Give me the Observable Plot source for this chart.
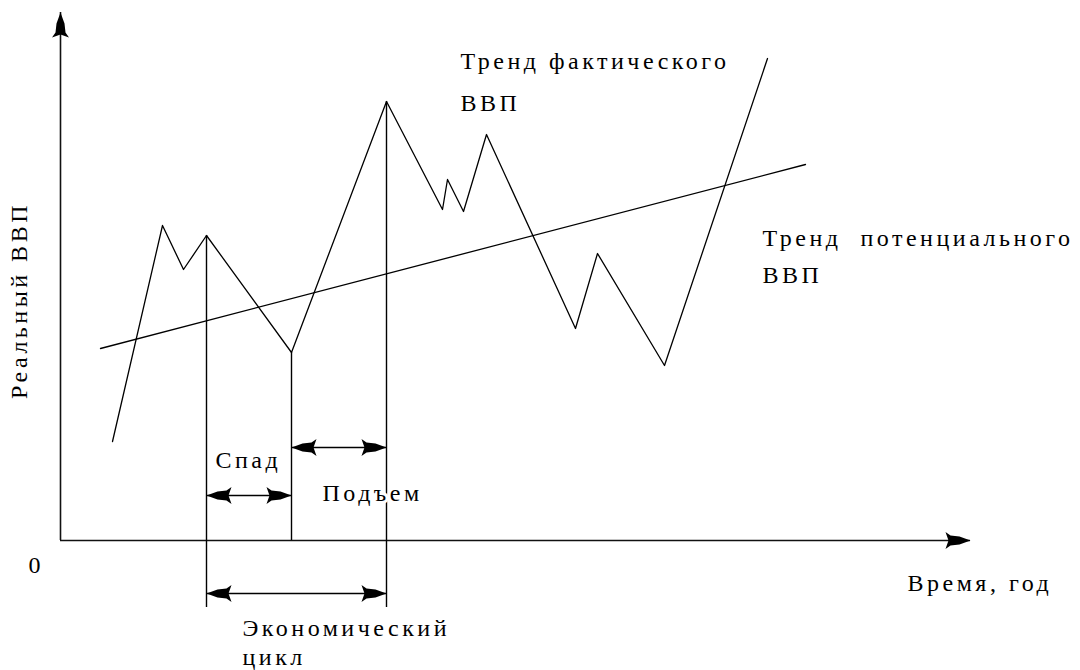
<!DOCTYPE html>
<html><head><meta charset="utf-8">
<script src="https://cdn.jsdelivr.net/npm/d3@7"></script>
<script src="https://cdn.jsdelivr.net/npm/@observablehq/plot@0.6"></script>
<style>html,body{margin:0;padding:0;background:#fff}
svg text{letter-spacing:3.5px; font-family:"Liberation Serif","DejaVu Serif","Times New Roman",Times,serif !important}</style>
</head><body><div id="chart"></div>
<script>
// Actual GDP path (time units, GDP units)
const actualT   = [5.2, 10.2, 12.3, 14.6, 23.1, 32.6, 38.2, 38.7, 40.3, 42.6, 51.5, 53.7, 60.4, 70.7];
const actualGdp = [9.9, 31.5, 27.1, 30.5, 18.8, 43.9, 33.1, 36.1, 32.9, 40.6, 21.2, 28.7, 17.5, 48.2];
// Potential GDP trend
const trendT   = [4.0, 74.5];
const trendGdp = [19.2, 37.6];
// Phase markers (vertical lines)
const markerT      = [14.6, 23.1, 32.6];
const markerTop    = [30.5, 18.8, 43.9];
const markerBottom = [-6.7, 0, -6.7];
// Span arrows
const spanNames = ["Подъем", "Спад", "Экономический цикл"];
const spanFrom  = [23.1, 14.6, 14.6];
const spanTo    = [32.6, 23.1, 32.6];
const spanGdp   = [9.3, 4.5, -5.3];
// Axes extents
const xAxisEnd = 91;
const yAxisEnd = 52.8;
// Labels
const labelText = ["Тренд фактического", "ВВП", "Тренд  потенциального", "ВВП", "Спад", "Подъем", "Экономический", "цикл", "Время, год", "0"];
const labelT    = [40.0, 40.0, 70.2, 70.2, 15.5, 26.2, 18.2, 18.2, 84.7, -3.2];
const labelGdp  = [47.2, 43.0, 29.5, 25.8, 7.3, 4.0, -9.5, -12.4, -5.0, -3.2];
const yTitle = "Реальный ВВП";

const actual = actualT.map((t, i) => ({t, g: actualGdp[i]}));
const trend = trendT.map((t, i) => ({t, g: trendGdp[i]}));
const markers = markerT.map((t, i) => ({t, g1: markerBottom[i], g2: markerTop[i]}));
const spans = spanNames.map((n, i) => ({n, t1: spanFrom[i], t2: spanTo[i], g: spanGdp[i]}));
const heads = [
  {t: 0, g: yAxisEnd, rot: -90},
  {t: xAxisEnd, g: 0, rot: 0},
  ...spans.flatMap(s => [{t: s.t1, g: s.g, rot: 180}, {t: s.t2, g: s.g, rot: 0}])
];
const labels = labelText.map((text, i) => ({text, t: labelT[i], g: labelGdp[i]}));

const arrowHead = {
  draw(ctx, size) {
    const k = Math.sqrt(size / (Math.PI * 4.5 * 4.5));
    const pts = [[0,0],[-11,-4],[-20,-5],[-25,-8.5],[-22,0],[-25,8.5],[-20,5],[-11,4]];
    ctx.moveTo(pts[0][0]*k, pts[0][1]*k);
    for (const [x, y] of pts.slice(1)) ctx.lineTo(x*k, y*k);
    ctx.closePath();
  }
};

const font = "Liberation Serif";
const chart = Plot.plot({
  width: 1080, height: 670, margin: 0,
  x: {domain: [-6, 102], axis: null},
  y: {domain: [-13, 54], axis: null},
  style: {background: "#fff", color: "#000", fontFamily: font},
  marks: [
    Plot.ruleX([0], {y1: 0, y2: yAxisEnd, stroke: "#111", strokeWidth: 1.6}),
    Plot.ruleY([0], {x1: 0, x2: xAxisEnd, stroke: "#111", strokeWidth: 1.6}),
    Plot.line(trend, {x: "t", y: "g", stroke: "#000", strokeWidth: 1.3}),
    Plot.line(actual, {x: "t", y: "g", stroke: "#000", strokeWidth: 1.3}),
    Plot.ruleX(markers, {x: "t", y1: "g1", y2: "g2", stroke: "#000", strokeWidth: 1.4}),
    Plot.ruleY(spans, {y: "g", x1: "t1", x2: "t2", stroke: "#000", strokeWidth: 1.3}),
    Plot.dot(heads, {x: "t", y: "g", rotate: "rot", r: 4.5, symbol: arrowHead, fill: "#000", stroke: "none"}),
    Plot.text(labels, {x: "t", y: "g", text: "text", textAnchor: "start", lineAnchor: "bottom",
      fontFamily: font, fontSize: 24, fill: "#000", stroke: "#fff", strokeWidth: 6}),
    Plot.text([yTitle], {x: -3.4, y: 24, text: d => d, rotate: -90, textAnchor: "middle", lineAnchor: "bottom",
      fontFamily: font, fontSize: 24, fill: "#000"})
  ]
});
document.getElementById("chart").appendChild(chart);
</script>
</body></html>
